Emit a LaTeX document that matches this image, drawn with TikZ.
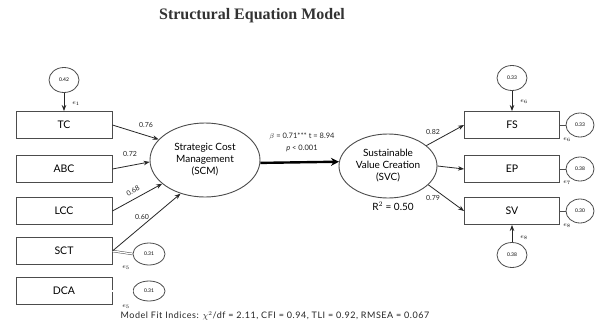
\documentclass[tikz,border=0pt]{standalone}
\usepackage{fontspec}
\setmainfont{Lato}
\newfontfamily\titlefont{Liberation Serif}
\usetikzlibrary{shapes.geometric,arrows.meta}
\begin{document}
\begin{tikzpicture}[x=1pt,y=-1pt,
  box/.style={draw=black!70, line width=0.9pt, minimum width=96pt, minimum height=27pt, inner sep=0pt, font=\fontsize{10.5}{10.5}\selectfont},
  lat/.style={draw=black!70, line width=0.9pt, ellipse, inner sep=0pt, align=center, font=\fontsize{10}{12}\selectfont},
  err/.style={draw=black!70, line width=0.8pt, ellipse, minimum width=30pt, minimum height=25pt, inner sep=0pt, font=\fontsize{5}{5}\selectfont},
  arr/.style={draw=black!85, line width=0.8pt, -{Stealth[length=6pt,width=4.5pt]}},
  dbl/.style={draw=black!70, line width=0.5pt, double, double distance=1.3pt},
  lbl/.style={font=\fontsize{7}{7}\selectfont, text=black!85, inner sep=1pt},
  elab/.style={font=\fontsize{6}{6}\selectfont, inner sep=0pt}
]
\useasboundingbox[fill=white] (0,0) rectangle (605,335);
\node[font=\titlefont\bfseries\fontsize{16}{16}\selectfont, text=black!80] (title) at (252,16) {Structural Equation Model};

% left indicators
\node[box] (TC)  at (64,125) {TC};
\node[box] (ABC) at (64,169) {ABC};
\node[box] (LCC) at (64,211) {LCC};
\node[box] (SCT) at (64,251) {SCT};
\node[box] (DCA) at (64,291) {DCA};

\node[err] (e1) at (64,80) {0.42};
\draw[arr] (e1.south) -- (TC.north);
\node[elab] (e1l) at (76,104) {$e_1$};

\node[err, minimum width=32pt, minimum height=22pt] (eSCT) at (149,254) {0.31};
\draw[dbl] (SCT.east) -- (eSCT.west);
\node[elab] (e5a) at (126,268) {$e_5$};
\node[err, minimum width=32pt, minimum height=20pt] (eDCA) at (149,291) {0.31};
\draw[dbl] (DCA.east) -- (eDCA.west);
\node[elab] (e5b) at (126,307) {$e_5$};

% latent variables
\node[lat, minimum width=110pt, minimum height=74pt] (SCM) at (205,160) {Strategic Cost\\Management\\(SCM)};
\node[lat, minimum width=98pt, minimum height=64pt] (SVC) at (388,166) {Sustainable\\Value Creation\\(SVC)};

\draw[arr] (TC.east)  -- (SCM.156);
\draw[arr] (ABC.east) -- (SCM.182);
\draw[arr] (LCC.east) -- (SCM.209);
\draw[arr] (SCT.east) -- (SCM.234);
\node[lbl] (l1) at (146,125) {0.76};
\node[lbl] (l2) at (130,154) {0.72};
\node[lbl, rotate=28] (l3) at (133,191) {0.68};
\node[lbl] (l4) at (142,217) {0.60};

\draw[draw=black, line width=2.4pt, -{Stealth[length=8pt,width=8pt]}] (SCM.-3) -- (SVC.175);
\node[lbl, font=\fontsize{7.5}{7.5}\selectfont] (beta) at (302,136) {$\beta$ = 0.71*** t = 8.94};
\node[lbl, font=\fontsize{7.5}{7.5}\selectfont] (pv) at (302,148) {\itshape p\upshape{} < 0.001};
\node[font=\fontsize{10}{10}\selectfont, inner sep=1pt] (r2) at (393,206) {R$^2$ = 0.50};

% right indicators
\node[box, minimum width=95pt] (FS) at (512,125) {FS};
\node[box, minimum width=95pt] (EP) at (512,169) {EP};
\node[box, minimum width=95pt] (SV) at (512,211) {SV};

\draw[arr] (SVC.28) -- (FS.west);
\draw[arr] (SVC.0) -- (EP.west);
\draw[arr] (SVC.-25) -- (SV.west);
\node[lbl] (l5) at (433,132) {0.82};
\node[lbl] (l6) at (433,198) {0.79};

\node[err, minimum width=28pt, minimum height=24pt] (eFS) at (580,125) {0.33};
\node[err, minimum width=28pt, minimum height=24pt] (eEP) at (580,169) {0.38};
\node[err, minimum width=28pt, minimum height=24pt] (eSV) at (580,211) {0.30};
\draw[draw=black!70, line width=0.8pt] (FS.east) -- (eFS.west);
\draw[draw=black!70, line width=0.8pt] (EP.east) -- (eEP.west);
\draw[draw=black!70, line width=0.8pt] (SV.east) -- (eSV.west);
\node[elab] (e6b) at (567,140) {$e_6$};
\node[elab] (e7) at (567,183) {$e_7$};
\node[elab] (e8b) at (567,226) {$e_8$};

\node[err] (eTop) at (512,78) {0.33};
\draw[arr] (eTop.south) -- (FS.north);
\node[elab] (e6a) at (524,102) {$e_6$};
\node[err] (eBot) at (512,255) {0.38};
\draw[arr] (eBot.north) -- (SV.south);
\node[elab] (e8a) at (524,238) {$e_8$};

\node[font=\fontsize{9}{9}\selectfont\addfontfeature{LetterSpace=6}, text=black!85] (fit) at (275,316) {Model Fit Indices: $\chi^2$/df = 2.11, CFI = 0.94, TLI = 0.92, RMSEA = 0.067};
\end{tikzpicture}
\end{document}
